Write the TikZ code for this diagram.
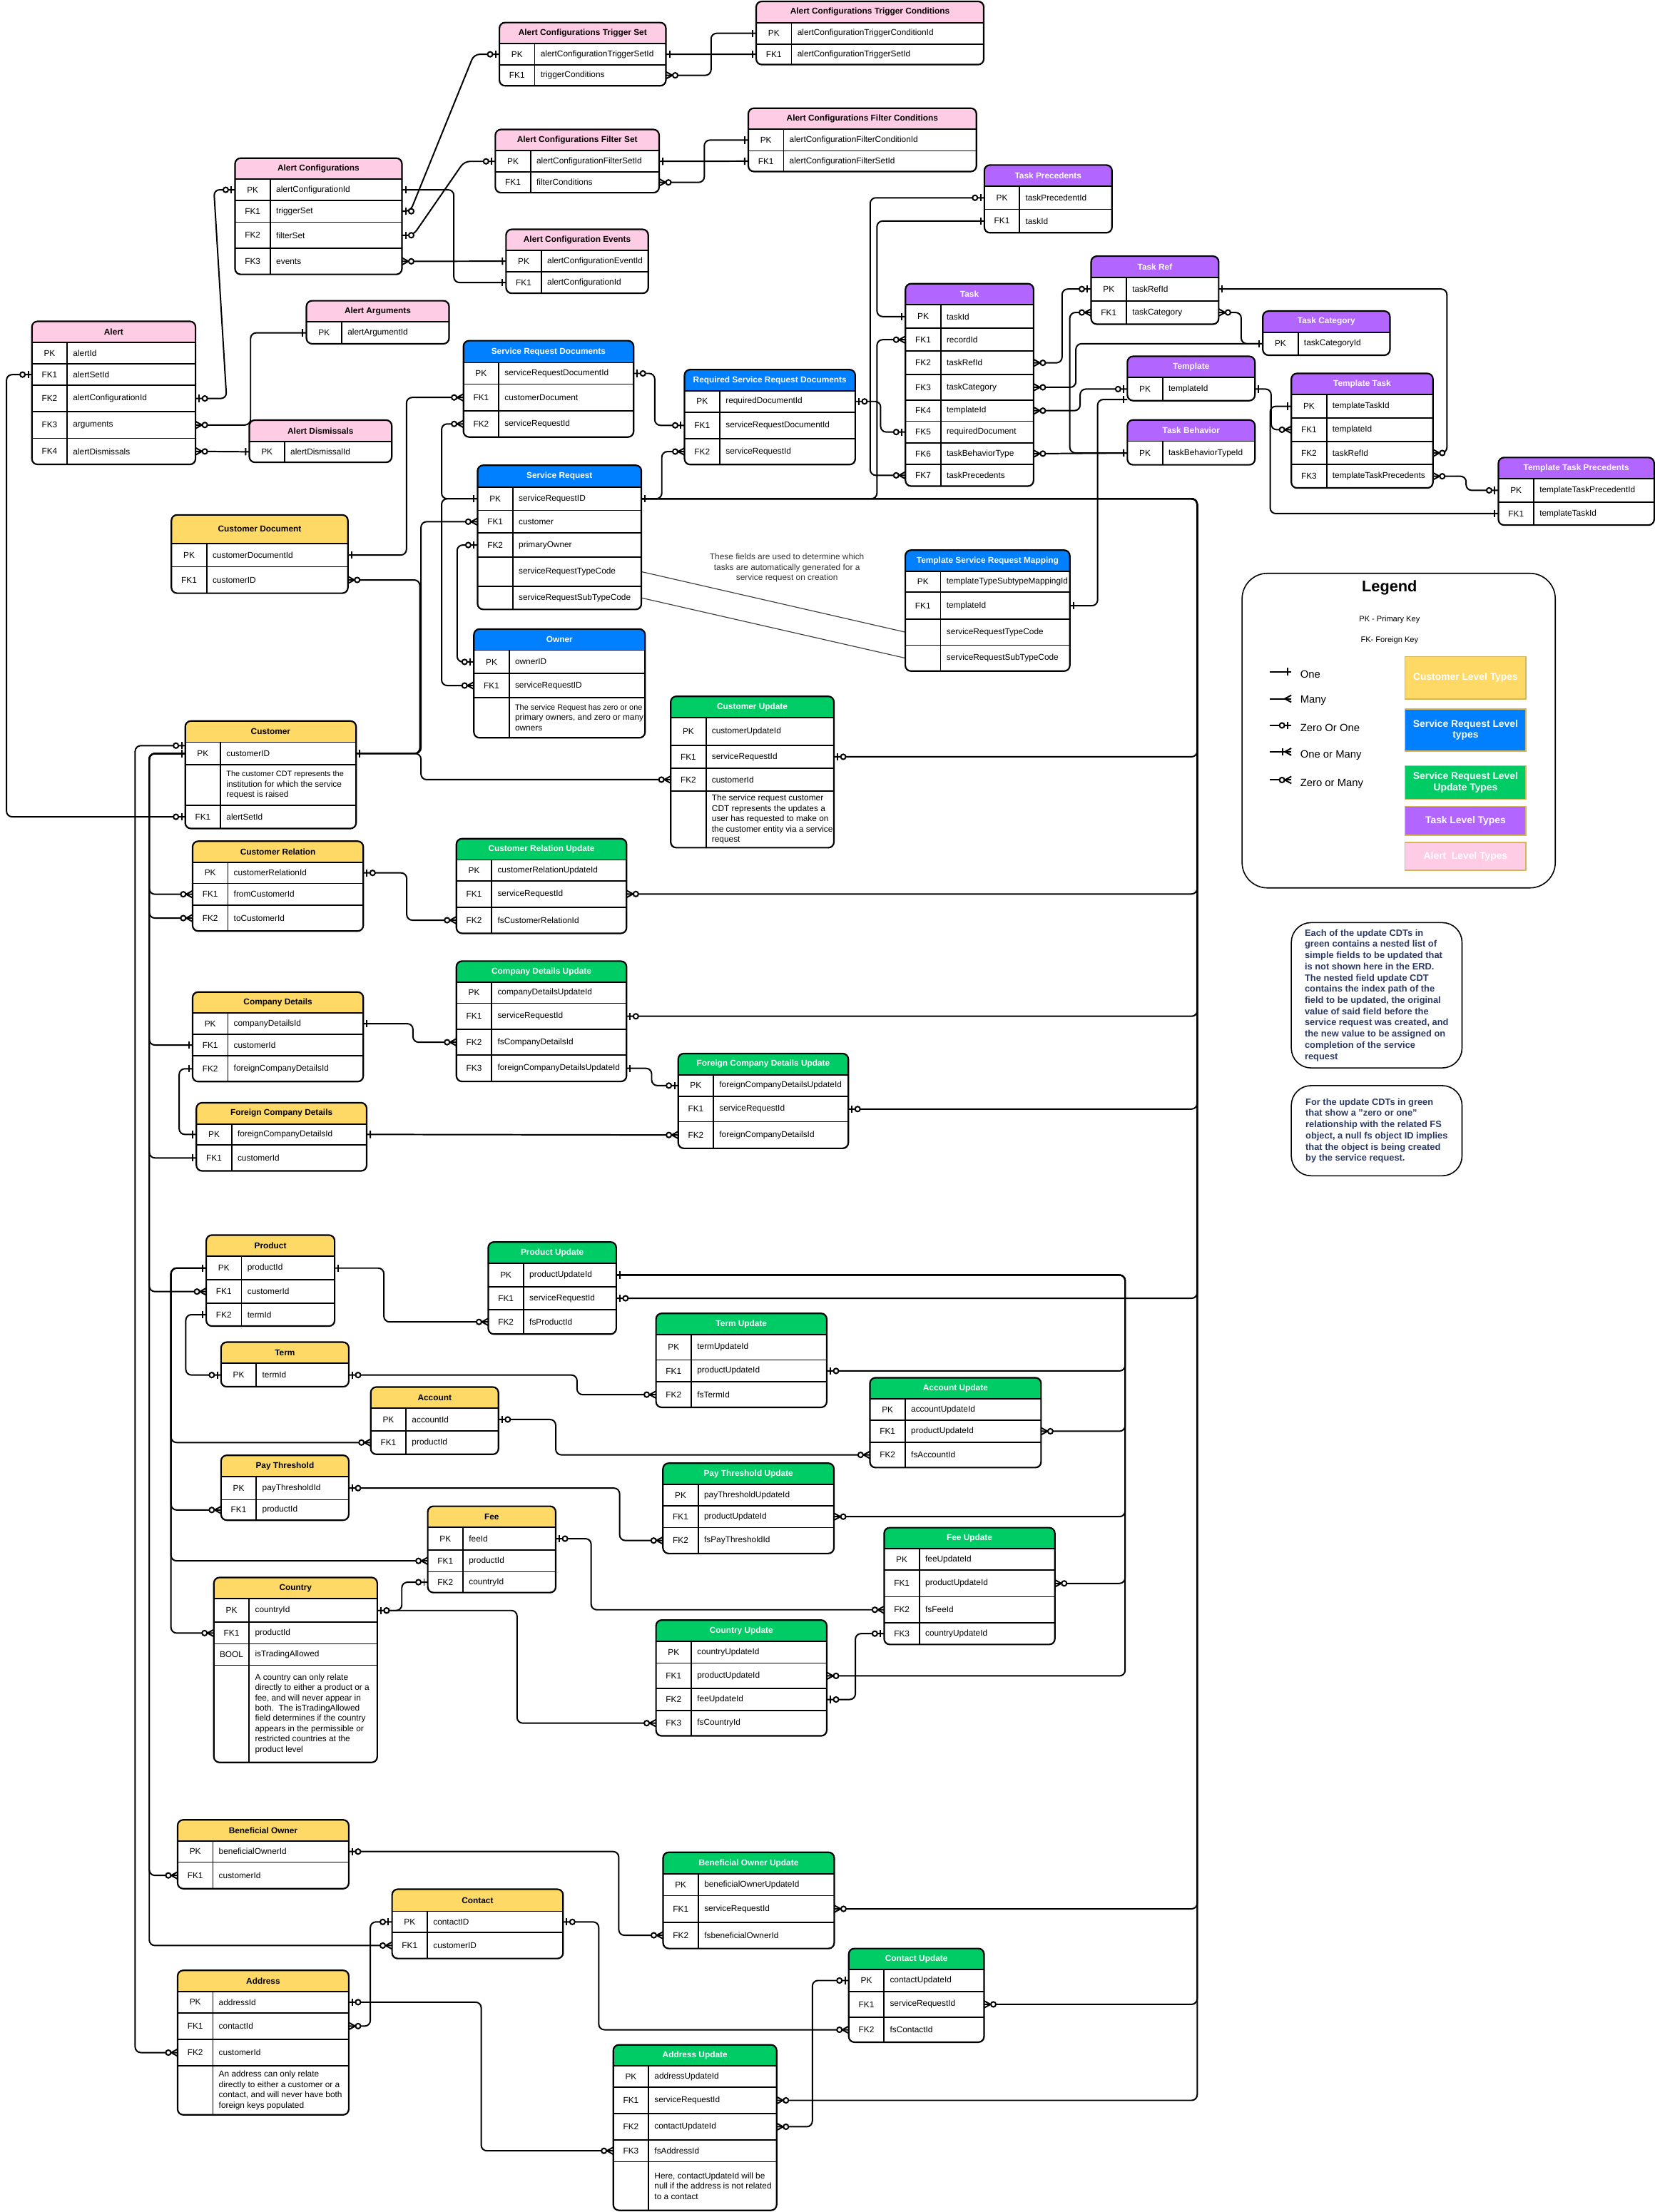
\documentclass[tikz,border=0pt]{standalone}
\usepackage{fontspec}
\setmainfont{Liberation Sans}

\definecolor{erpink}{HTML}{FFCCE6}
\definecolor{erblue}{HTML}{007FFF}
\definecolor{ergreen}{HTML}{00CC66}
\definecolor{erpurple}{HTML}{B266FF}
\definecolor{eryellow}{HTML}{FFD966}
\definecolor{legendedge}{HTML}{D6B656}
\definecolor{notetext}{HTML}{2E3A66}

\pgfdeclarelayer{bg}
\pgfdeclarelayer{edges}
\pgfdeclarelayer{fills}
\pgfsetlayers{bg,edges,fills,main}

% crow's foot line ends
\pgfdeclarearrow{
  name = ERone,
  setup code = {\pgfarrowssettipend{0pt}\pgfarrowssetlineend{0pt}\pgfarrowssetbackend{-4pt}},
  drawing code = {
    \pgfpathmoveto{\pgfqpoint{-2.6pt}{-2.6pt}}
    \pgfpathlineto{\pgfqpoint{-2.6pt}{2.6pt}}
    \pgfusepathqstroke}
}
\pgfdeclarearrow{
  name = ERzone,
  setup code = {\pgfarrowssettipend{0pt}\pgfarrowssetlineend{0pt}\pgfarrowssetbackend{-9pt}},
  drawing code = {
    \pgfpathmoveto{\pgfqpoint{-2.6pt}{-2.6pt}}
    \pgfpathlineto{\pgfqpoint{-2.6pt}{2.6pt}}
    \pgfusepathqstroke
    \pgfpathcircle{\pgfqpoint{-6.6pt}{0pt}}{1.8pt}
    \pgfsetfillcolor{white}
    \pgfusepathqfillstroke}
}
\pgfdeclarearrow{
  name = ERmany,
  setup code = {\pgfarrowssettipend{0pt}\pgfarrowssetlineend{0pt}\pgfarrowssetbackend{-5pt}},
  drawing code = {
    \pgfpathmoveto{\pgfqpoint{0pt}{2.5pt}}
    \pgfpathlineto{\pgfqpoint{-4.6pt}{0pt}}
    \pgfpathlineto{\pgfqpoint{0pt}{-2.5pt}}
    \pgfusepathqstroke}
}
\pgfdeclarearrow{
  name = ERonemany,
  setup code = {\pgfarrowssettipend{0pt}\pgfarrowssetlineend{0pt}\pgfarrowssetbackend{-7pt}},
  drawing code = {
    \pgfpathmoveto{\pgfqpoint{0pt}{2.5pt}}
    \pgfpathlineto{\pgfqpoint{-4.6pt}{0pt}}
    \pgfpathlineto{\pgfqpoint{0pt}{-2.5pt}}
    \pgfusepathqstroke
    \pgfpathmoveto{\pgfqpoint{-6pt}{-2.6pt}}
    \pgfpathlineto{\pgfqpoint{-6pt}{2.6pt}}
    \pgfusepathqstroke}
}
\pgfdeclarearrow{
  name = ERzmany,
  setup code = {\pgfarrowssettipend{0pt}\pgfarrowssetlineend{0pt}\pgfarrowssetbackend{-9pt}},
  drawing code = {
    \pgfpathmoveto{\pgfqpoint{0pt}{2.5pt}}
    \pgfpathlineto{\pgfqpoint{-4.6pt}{0pt}}
    \pgfpathlineto{\pgfqpoint{0pt}{-2.5pt}}
    \pgfusepathqstroke
    \pgfpathcircle{\pgfqpoint{-6.6pt}{0pt}}{1.8pt}
    \pgfsetfillcolor{white}
    \pgfusepathqfillstroke}
}

\tikzset{
  hdrcol/.code={\gdef\hdrcol{#1}},
  hdr/.style={inner sep=0pt, outer sep=0pt, minimum height=15pt, font=\fontsize{6}{7}\selectfont\bfseries},
  pinkhdr/.style={text=black, hdrcol=erpink},
  yellowhdr/.style={text=black, hdrcol=eryellow},
  bluehdr/.style={text=white, hdrcol=erblue},
  greenhdr/.style={text=white, hdrcol=ergreen},
  purplehdr/.style={text=white, hdrcol=erpurple},
  rowbox/.style={inner sep=0pt, outer sep=0pt},
  keytxt/.style={inner sep=0pt, font=\fontsize{6}{7}\selectfont},
  fldtxt/.style={inner sep=0pt, anchor=west, align=left, font=\fontsize{6}{7.3}\selectfont},
  rowline/.style={line width=0.9pt},
  tablebox/.style={line width=1.1pt, rounded corners=4pt},
  er/.style={line width=1pt, rounded corners=4pt},
  thinline/.style={line width=0.6pt, black!75},
  lgtxt/.style={inner sep=0pt, anchor=west, font=\fontsize{7.5}{9}\selectfont},
  lgbox/.style={draw=legendedge, line width=0.8pt, minimum width=85.7pt, inner sep=0pt,
                text=white, align=center, font=\fontsize{7}{8}\selectfont\bfseries},
  notebox/.style={draw, line width=0.8pt, rounded corners=14pt, minimum width=121pt, inner sep=0pt,
                  align=left, text=notetext, font=\fontsize{6.5}{7.95}\selectfont\bfseries}
}

% \entity{header style}{name}{top left}{width}{title}{key/field/height,...}
\newcommand{\entity}[6]{%
  \node[hdr, #1, minimum width=#4pt, anchor=north west] (#2) at #3 {#5};
  \foreach \k/\f/\h [count=\i, remember=\i as \j (initially 0)] in {#6} {
    \ifnum\j=0 \edef\prev{#2}\else \edef\prev{#2-\j}\fi
    \node[rowbox, minimum width=#4pt, minimum height=\h pt, anchor=north west] (#2-\i) at (\prev.south west) {};
    \draw[rowline] (#2-\i.north west) -- (#2-\i.north east);
    \node[keytxt] (#2-\i-key) at ([xshift=12.5pt]#2-\i.west) {\k};
    \node[fldtxt] (#2-\i-field) at ([xshift=29pt]#2-\i.west) {\f};
    \xdef\lastrow{#2-\i}
  }
  \begin{pgfonlayer}{fills}
    \fill[white, rounded corners=4pt] (#2.north west) rectangle (\lastrow.south east);
    \begin{scope}
      \clip[rounded corners=4pt] (#2.north west) rectangle (\lastrow.south east);
      \fill[fill=\hdrcol] (#2.north west) rectangle (#2.south east);
    \end{scope}
  \end{pgfonlayer}
  \draw[tablebox] (#2.north west) rectangle (\lastrow.south east);
  \draw[rowline] ([xshift=25pt]#2.south west) -- ([xshift=25pt]\lastrow.south west);
}

\begin{document}
\begin{tikzpicture}[x=1pt, y=-1pt]
  \begin{pgfonlayer}{bg}
    \fill[white] (0,0) rectangle (1173,1568);
  \end{pgfonlayer}
  \useasboundingbox (0,0) rectangle (1173,1568);

  % alert level
  \entity{pinkhdr}{acts}{(354,16)}{118}{Alert Configurations Trigger Set}{PK/alertConfigurationTriggerSetId/15, FK1/triggerConditions/14.8}
  \entity{pinkhdr}{actc}{(536,1)}{161.3}{Alert Configurations Trigger Conditions}{PK/alertConfigurationTriggerConditionId/15.2, FK1/alertConfigurationTriggerSetId/14.6}
  \entity{pinkhdr}{acfs}{(351.1,91.8)}{116.1}{Alert Configurations Filter Set}{PK/alertConfigurationFilterSetId/15.2, FK1/filterConditions/14.6}
  \entity{pinkhdr}{acfc}{(530.4,76.7)}{161.7}{Alert Configurations Filter Conditions}{PK/alertConfigurationFilterConditionId/15.2, FK1/alertConfigurationFilterSetId/14.7}
  \entity{pinkhdr}{acfg}{(166.6,112.1)}{118.3}{Alert Configurations}{PK/alertConfigurationId/14.9, FK1/triggerSet/15.5, FK2/filterSet/18.5, FK3/events/18.5}
  \entity{pinkhdr}{acev}{(358.7,162.6)}{100.8}{Alert Configuration Events}{PK/alertConfigurationEventId/15.1, FK1/alertConfigurationId/15.2}
  \entity{pinkhdr}{aarg}{(217.2,213.2)}{101.1}{Alert Arguments}{PK/alertArgumentId/15.5}
  \entity{pinkhdr}{alert}{(22.6,227.8)}{116}{Alert}{PK/alertId/15.2, FK1/alertSetId/15.1, FK2/alertConfigurationId/18.7, FK3/arguments/18.9, FK4/alertDismissals/18.5}
  \entity{pinkhdr}{adis}{(176.7,297.8)}{101}{Alert Dismissals}{PK/alertDismissalId/14.9}

  % service request level
  \entity{bluehdr, minimum height=15.6pt}{srd}{(328.5,241.5)}{120.6}{Service Request Documents}{PK/serviceRequestDocumentId/15.2, FK1/customerDocument/18.9, FK2/serviceRequestId/18.6}
  \entity{bluehdr}{rsrd}{(485.2,262)}{121}{Required Service Request Documents}{PK/requiredDocumentId/15.1, FK1/serviceRequestDocumentId/18.8, FK2/serviceRequestId/18.4}
  \entity{bluehdr, minimum height=15.5pt}{sr}{(338.5,329.8)}{116.1}{Service Request}{PK/serviceRequestID/16.5, FK1/customer/16, FK2/primaryOwner/17.1, {}/serviceRequestTypeCode/20.7, {}/serviceRequestSubTypeCode/16.4}
  \entity{bluehdr}{owner}{(335.9,445.9)}{121.3}{Owner}{PK/ownerID/16.6, FK1/serviceRequestID/16.9, {}/{\fontsize{5.5}{6.7}\selectfont The service Request has zero or one\\primary owners, and zero or many\\owners}/28.6}
  \entity{bluehdr}{tsrm}{(641.7,390)}{116.6}{Template Service Request Mapping}{PK/templateTypeSubtypeMappingId/14.8, FK1/templateId/19.1, {}/serviceRequestTypeCode/18.4, {}/serviceRequestSubTypeCode/18.4}

  % customer level
  \entity{yellowhdr, minimum height=20.2pt}{cdoc}{(121.5,365)}{125.1}{Customer Document}{PK/customerDocumentId/16.5, FK1/customerID/18.8}
  \entity{yellowhdr}{cust}{(131.3,511.1)}{121.1}{Customer}{PK/customerID/16.1, {}/{\fontsize{5.5}{6.4}\selectfont The customer CDT represents the\\institution for which the service\\request is raised}/28.5, FK1/alertSetId/16.6}
  \entity{yellowhdr}{crel}{(136.5,596.3)}{121}{Customer Relation}{PK/customerRelationId/14.9, FK1/fromCustomerId/15.4, FK2/toCustomerId/18.4}
  \entity{yellowhdr}{cdet}{(136.5,703.2)}{121}{Company Details}{PK/companyDetailsId/14.9, FK1/customerId/15.4, FK2/foreignCompanyDetailsId/18.2}
  \entity{yellowhdr}{fcd}{(139.2,781.7)}{120.7}{Foreign Company Details}{PK/foreignCompanyDetailsId/14.9, FK1/customerId/18.4}
  \entity{yellowhdr}{prod}{(146.2,875.5)}{91}{Product}{PK/productId/16.8, FK1/customerId/16.5, FK2/termId/16.2}
  \entity{yellowhdr}{term}{(156.7,951.4)}{90.5}{Term}{PK/termId/16.6}
  \entity{yellowhdr}{acct}{(262.8,983.2)}{90.5}{Account}{PK/accountId/16, FK1/productId/16.7}
  \entity{yellowhdr}{payt}{(156.7,1031.6)}{90.5}{Pay Threshold}{PK/payThresholdId/16.5, FK1/productId/14.5}
  \entity{yellowhdr}{fee}{(303.2,1067.7)}{90.7}{Fee}{PK/feeId/16, FK1/productId/15.5, FK2/countryId/14.7}
  \entity{yellowhdr}{ctry}{(151.6,1118.2)}{115.8}{Country}{PK/countryId/16.8, FK1/productId/15.2, BOOL/isTradingAllowed/15.2, {}/{A country can only relate\\directly to either a product or a\\fee, and will never appear in\\both.\ \ The isTradingAllowed\\field determines if the country\\appears in the permissible or\\restricted countries at the\\product level}/68.9}
  \entity{yellowhdr}{bown}{(125.9,1290)}{121.3}{Beneficial Owner}{PK/beneficialOwnerId/15, FK1/customerId/18.8}
  \entity{yellowhdr, minimum height=15.6pt}{cont}{(277.9,1339.2)}{121.2}{Contact}{PK/contactID/15.1, FK1/customerID/18.4}
  \entity{yellowhdr}{addr}{(125.9,1396.7)}{121.3}{Address}{PK/addressId/15.1, FK1/contactId/18.8, FK2/customerId/18.8, {}/{An address can only relate\\directly to either a customer or a\\contact, and will never have both\\foreign keys populated}/34.7}

  % service request level update types
  \entity{greenhdr}{cupd}{(475.4,493.6)}{115.7}{Customer Update}{PK/customerUpdateId/19.7, FK1/serviceRequestId/16.3, FK2/customerId/16.1, {}/{The service request customer\\CDT represents the updates a\\user has requested to make on\\the customer entity via a service\\request}/40.2}
  \entity{greenhdr}{crup}{(323.5,594.5)}{120.6}{Customer Relation Update}{PK/customerRelationUpdateId/14.9, FK1/serviceRequestId/18.6, FK2/fsCustomerRelationId/18.6}
  \entity{greenhdr}{cdup}{(323.5,681.3)}{120.6}{Company Details Update}{PK/companyDetailsUpdateId/14.9, FK1/serviceRequestId/18.4, FK2/fsCompanyDetailsId/18.4, FK3/foreignCompanyDetailsUpdateId/18.6}
  \entity{greenhdr}{fcdu}{(480.7,746.8)}{120.6}{Foreign Company Details Update}{PK/foreignCompanyDetailsUpdateId/15.4, FK1/serviceRequestId/17.9, FK2/foreignCompanyDetailsId/18.9}
  \entity{greenhdr}{pupd}{(346.1,880.4)}{90.7}{Product Update}{PK/productUpdateId/16.8, FK1/serviceRequestId/16.2, FK2/fsProductId/17.3}
  \entity{greenhdr}{tupd}{(465,931)}{121}{Term Update}{PK/termUpdateId/18, FK1/productUpdateId/15.6, FK2/fsTermId/18}
  \entity{greenhdr}{aupd}{(616.6,976.6)}{121.3}{Account Update}{PK/accountUpdateId/15.2, FK1/productUpdateId/15.5, FK2/fsAccountId/18}
  \entity{greenhdr}{ptup}{(469.9,1037.2)}{121.2}{Pay Threshold Update}{PK/payThresholdUpdateId/15.2, FK1/productUpdateId/15.4, FK2/fsPayThresholdId/18.4}
  \entity{greenhdr}{fupd}{(626.7,1082.9)}{121}{Fee Update}{PK/feeUpdateId/15, FK1/productUpdateId/19, FK2/fsFeeId/18.4, FK3/countryUpdateId/15.4}
  \entity{greenhdr}{cyup}{(465,1148.4)}{121}{Country Update}{PK/countryUpdateId/15.5, FK1/productUpdateId/18.1, FK2/feeUpdateId/15.4, FK3/fsCountryId/18.1}
  \entity{greenhdr, minimum height=15.5pt}{boup}{(470,1313)}{121.3}{Beneficial Owner Update}{PK/beneficialOwnerUpdateId/15.2, FK1/serviceRequestId/18.8, FK2/fsbeneficialOwnerId/18.7}
  \entity{greenhdr}{coup}{(601.6,1381.2)}{95.9}{Contact Update}{PK/contactUpdateId/15.4, FK1/serviceRequestId/18.4, FK2/fsContactId/17.6}
  \entity{greenhdr}{adup}{(434.7,1449.5)}{115.8}{Address Update}{PK/addressUpdateId/15, FK1/serviceRequestId/18.7, FK2/contactUpdateId/18.7, FK3/fsAddressId/15.4, {}/{Here, contactUpdateId will be\\null if the address is not related\\to a contact}/34.5}

  % task level
  \entity{purplehdr}{tprec}{(697.7,117)}{90.5}{Task Precedents}{PK/taskPrecedentId/16.4, FK1/taskId/16.6}
  \entity{purplehdr}{tref}{(773.4,181.6)}{90.4}{Task Ref}{PK/taskRefId/16.6, FK1/taskCategory/16.6}
  \entity{purplehdr}{task}{(641.8,201.1)}{90.8}{Task}{PK/taskId/16.6, FK1/recordId/16.2, FK2/taskRefId/16.6, FK3/taskCategory/18.1, FK4/templateId/15, FK5/requiredDocument/15.3, FK6/taskBehaviorType/15.4, FK7/taskPrecedents/15.3}
  \entity{purplehdr}{tcat}{(895.1,220.5)}{90.1}{Task Category}{PK/taskCategoryId/16.3}
  \entity{purplehdr}{tmpl}{(799.1,252.6)}{90.4}{Template}{PK/templateId/16.4}
  \entity{purplehdr}{ttask}{(915.3,264.7)}{100.4}{Template Task}{PK/templateTaskId/16.6, FK1/templateId/16.6, FK2/taskRefId/16.4, FK3/templateTaskPrecedents/16.6}
  \entity{purplehdr}{tbeh}{(799.1,297.7)}{90.4}{Task Behavior}{PK/taskBehaviorTypeId/16.8}
  \entity{purplehdr}{ttp}{(1062.1,324.3)}{110.4}{Template Task Precedents}{PK/templateTaskPrecedentId/16.6, FK1/templateTaskId/16.3}

  \node[font=\fontsize{6}{7.35}\selectfont, align=center, text=black!80] (srnote) at (557.8,402.6)
    {These fields are used to determine which\\tasks are automatically generated for a\\service request on creation};

  \begin{pgfonlayer}{edges}
    % alert configurations
    \draw[er, {ERone}-{ERone}] (acfg-1.east) -- ++(36.8,0) |- (acev-2.west);
    \draw[er, {ERzmany}-{ERone}] (acfg-4.east) -- (acev-1.west);
    \draw[er, {ERzone}-{ERzone}] (acfg-2.east) -- ++(6,0) -- ([xshift=-18pt]acts-1.west) -- (acts-1.west);
    \draw[er, {ERzone}-{ERzone}] (acfg-3.east) -- ++(8,0) -- ([xshift=-22pt]acfs-1.west) -- (acfs-1.west);
    \draw[er, {ERone}-{ERone}] (acts-1.east) -- (actc-2.west);
    \draw[er, {ERzmany}-{ERone}] (acts-2.east) -- ++(32,0) |- (actc-1.west);
    \draw[er, {ERone}-{ERone}] (acfs-1.east) -- (acfc-2.west);
    \draw[er, {ERzmany}-{ERone}] (acfs-2.east) -- ++(32,0) |- (acfc-1.west);
    % alert
    \draw[er, {ERzone}-{ERzone}] (alert-3.east) -- ++(22,0) -- ([xshift=-15pt]acfg-1.west) -- (acfg-1.west);
    \draw[er, {ERzmany}-{ERone}] (alert-4.east) -- ++(39,0) |- (aarg-1.west);
    \draw[er, {ERzmany}-{ERone}] (alert-5.east) -- (adis-1.west);
    \draw[er, {ERzone}-{ERzone}] (alert-2.west) -- ++(-18,0) |- (cust-3.west);

    % service request
    \draw[er, {ERone}-{ERzmany}] (cdoc-1.east) -- ++(41.5,0) |- (srd-2.west);
    \draw[er, {ERzmany}-{ERone}] (cdoc-2.east) -- ++(51,0) |- (cust-1.east);
    \draw[er, {ERone}-{ERzmany}] (cust-1.east) -- ++(46,0) |- (sr-2.west);
    \draw[er, {ERone}-{ERzmany}] (cust-1.east) -- ++(46,0) |- (cupd-3.west);
    \draw[er, {ERzone}-{ERzone}] (srd-1.east) -- ++(15,0) |- (rsrd-2.west);
    \draw[er, {ERone}-{ERzmany}] (sr-1.east) -- ++(14.5,0) |- (rsrd-3.west);
    \draw[er, {ERone}-{ERzmany}] (sr-1.west) -- ++(-25.5,0) |- (srd-3.west);
    \draw[er, {ERone}-{ERzmany}] (sr-1.west) -- ++(-25.5,0) |- (owner-2.west);
    \draw[er, {ERzone}-{ERzone}] (sr-3.west) -- ++(-14.5,0) |- (owner-1.west);
    \draw[thinline] (sr-4.east) -- (tsrm-3.west);
    \draw[thinline] (sr-5.east) -- (tsrm-4.west);

    % tasks
    \draw[er, {ERone}-{ERone}] (tsrm-2.east) -- ++(19.7,0) |- ([yshift=0.8pt]tmpl-1.south west);
    \draw[er, {ERzmany}-{ERzone}] (task-5.east) -- ++(33,0) |- (tmpl-1.west);
    \draw[er, {ERone}-{ERzmany}] (tmpl-1.east) -- ++(11.5,0) |- (ttask-2.west);
    \draw[er, {ERone}-{ERone}] (ttask-1.west) -- ++(-15,0) |- (ttp-2.west);
    \draw[er, {ERzmany}-{ERzone}] (ttask-4.east) -- ++(23.5,0) |- (ttp-1.west);
    \draw[er, {ERone}-{ERzmany}] (tref-1.east) -- ++(161.8,0) |- (ttask-3.east);
    \draw[er, {ERzmany}-{ERzone}] (task-3.east) -- ++(20.2,0) |- (tref-1.west);
    \draw[er, {ERzmany}-{ERone}] (task-4.east) -- ++(30,0) |- (tcat-1.west);
    \draw[er, {ERzmany}-{ERone}] (tref-2.east) -- ++(16,0) |- (tcat-1.west);
    \draw[er, {ERone}-{ERzmany}] (tbeh-1.west) -- ++(-40.8,0) |- (tref-2.west);
    \draw[er, {ERzmany}-{ERone}] (task-7.east) -- (tbeh-1.west);
    \draw[er, {ERone}-{ERone}] (task-1.west) -- ++(-20.2,0) |- (tprec-2.west);
    \draw[er, {ERzmany}-{ERzone}] (task-8.west) -- ++(-25,0) |- (tprec-1.west);
    \draw[er, {ERone}-{ERzmany}] (sr-1.east) -- ++(167,0) |- (task-2.west);
    \draw[er, {ERzone}-{ERzone}] (rsrd-1.east) -- ++(18,0) |- (task-6.west);

    % service request to its update types
    \foreach \t in {cupd-2, cdup-2, fcdu-2, pupd-2}
      \draw[er, {ERone}-{ERzone}] (sr-1.east) -- ++(394,0) |- (\t.east);
    \foreach \t in {crup-2, boup-2, coup-2, adup-2}
      \draw[er, {ERone}-{ERzmany}] (sr-1.east) -- ++(394,0) |- (\t.east);

    % customer
    \foreach \t in {crel-2, crel-3, prod-2, bown-2, cont-2}
      \draw[er, {ERone}-{ERzmany}] (cust-1.west) -- ++(-25.5,0) |- (\t.west);
    \foreach \t in {cdet-2, fcd-2}
      \draw[er, {ERone}-{ERone}] (cust-1.west) -- ++(-25.5,0) |- (\t.west);
    \draw[er, {ERzone}-{ERzmany}] ([yshift=5.6pt]cust-1.west) -- ++(-35.5,0) |- (addr-3.west);
    \draw[er, {ERzone}-{ERzmany}] (crel-1.east) -- ++(30.8,0) |- (crup-3.west);
    \draw[er, {ERone}-{ERzmany}] (cdet-1.east) -- ++(35.2,0) |- (cdup-3.west);
    \draw[er, {ERone}-{ERzone}] (cdup-4.east) -- ++(17.8,0) |- (fcdu-1.west);
    \draw[er, {ERone}-{ERone}] (cdet-3.west) -- ++(-9.5,0) |- (fcd-1.west);
    \draw[er, {ERone}-{ERzmany}] (fcd-1.east) -- (fcdu-3.west);

    % product
    \draw[er, {ERone}-{ERzmany}] (prod-1.east) -- ++(34.9,0) |- (pupd-3.west);
    \foreach \t in {acct-2, payt-2, fee-2, ctry-2}
      \draw[er, {ERone}-{ERzmany}] (prod-1.west) -- ++(-25,0) |- (\t.west);
    \draw[er, {ERone}-{ERzone}] (prod-3.west) -- ++(-14.5,0) |- (term-1.west);
    \draw[er, {ERzone}-{ERzmany}] (term-1.east) -- ++(161.8,0) |- (tupd-3.west);
    \draw[er, {ERzone}-{ERzmany}] (acct-1.east) -- ++(40.6,0) |- (aupd-3.west);
    \draw[er, {ERzone}-{ERzmany}] (payt-1.east) -- ++(192,0) |- (ptup-3.west);
    \draw[er, {ERzone}-{ERzmany}] (fee-1.east) -- ++(25.1,0) |- (fupd-3.west);
    \draw[er, {ERzone}-{ERzone}] (ctry-1.east) -- ++(17.4,0) |- (fee-3.west);
    \draw[er, {ERzone}-{ERzmany}] (ctry-1.east) -- ++(99.1,0) |- (cyup-4.west);
    \draw[er, {ERzone}-{ERzone}] (cyup-3.east) -- ++(20.3,0) |- (fupd-4.west);
    \draw[er, {ERone}-{ERzone}] (pupd-1.east) -- ++(360.7,0) |- (tupd-2.east);
    \foreach \t in {aupd-2, ptup-2, fupd-2, cyup-2}
      \draw[er, {ERone}-{ERzmany}] (pupd-1.east) -- ++(360.7,0) |- (\t.east);

    % owners, contacts and addresses
    \draw[er, {ERzone}-{ERzmany}] (bown-1.east) -- ++(191.4,0) |- (boup-3.west);
    \draw[er, {ERzone}-{ERzmany}] (cont-1.east) -- ++(25.3,0) |- (coup-3.west);
    \draw[er, {ERzone}-{ERzmany}] (cont-1.west) -- ++(-15.4,0) |- (addr-2.east);
    \draw[er, {ERzone}-{ERzmany}] (addr-1.east) -- ++(93.9,0) |- (adup-4.west);
    \draw[er, {ERzone}-{ERzmany}] (coup-1.west) -- ++(-25.8,0) |- (adup-3.east);
  \end{pgfonlayer}

  % legend
  \node[draw, line width=0.8pt, rounded corners=18pt, minimum width=222pt, minimum height=223pt,
        inner sep=0pt, anchor=north west] (legend) at (880,406) {};
  \node[font=\fontsize{11}{13}\selectfont\bfseries] (legendtitle) at (984.9,416.5) {Legend};
  \node[font=\fontsize{5.6}{7}\selectfont] (pkkey) at (984.9,439.2) {PK - Primary Key};
  \node[font=\fontsize{5.6}{7}\selectfont] (fkkey) at (984.9,453.7) {FK- Foreign Key};
  \node[lgtxt] (lgone) at (921.5,477.9) {One};
  \node[lgtxt] (lgmany) at (921.5,496.5) {Many};
  \node[lgtxt] (lgzone) at (921.5,516) {Zero Or One};
  \node[lgtxt] (lgonemany) at (921.5,535.5) {One or Many};
  \node[lgtxt] (lgzmany) at (921.5,555.5) {Zero or Many};
  \draw[er, -{ERone}] ([shift={(-21.3pt,1.8pt)}]lgone.west) -- ++(15.1,0);
  \draw[er, -{ERmany}] ([shift={(-21.3pt,1.2pt)}]lgmany.west) -- ++(15.1,0);
  \draw[er, -{ERzone}] ([shift={(-21.3pt,1.8pt)}]lgzone.west) -- ++(15.1,0);
  \draw[er, -{ERonemany}] ([shift={(-21.3pt,2.6pt)}]lgonemany.west) -- ++(15.1,0);
  \draw[er, -{ERzmany}] ([shift={(-21.3pt,2.6pt)}]lgzmany.west) -- ++(15.1,0);
  \node[lgbox, fill=eryellow, minimum height=30.1pt] (lgcust) at (1038.8,480.5) {Customer Level Types};
  \node[lgbox, fill=erblue, minimum height=29.8pt] (lgsr) at (1038.8,517.5) {Service Request Level\\types};
  \node[lgbox, fill=ergreen, minimum height=23.6pt] (lgsru) at (1038.8,554.7) {Service Request Level\\Update Types};
  \node[lgbox, fill=erpurple, minimum height=20.4pt] (lgtask) at (1038.8,581.8) {Task Level Types};
  \node[lgbox, fill=erpink, minimum height=19.8pt] (lgalert) at (1038.8,607.1) {Alert~ Level Types};

  % notes
  \node[notebox, minimum height=103pt] (note1) at (975.8,705.5)
    {Each of the update CDTs in\\green contains a nested list of\\simple fields to be updated that\\is not shown here in the ERD.\\The nested field update CDT\\contains the index path of the\\field to be updated, the original\\value of said field before the\\service request was created, and\\the new value to be assigned on\\completion of the service\\request};
  \node[notebox, minimum height=63.9pt] (note2) at (975.8,801.5)
    {For the update CDTs in green\\that show a "zero or one"\\relationship with the related FS\\object, a null fs object ID implies\\that the object is being created\\by the service request.};
\end{tikzpicture}
\end{document}
